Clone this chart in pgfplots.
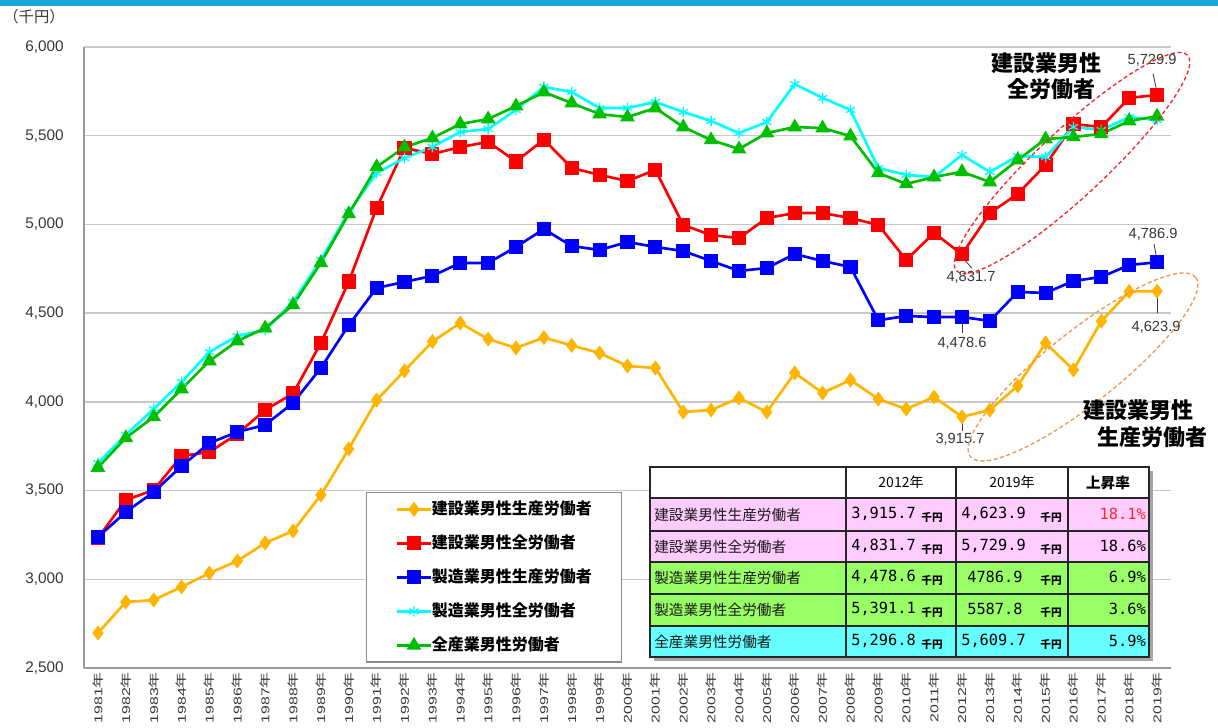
\documentclass[border=0pt]{standalone}
\usepackage{fontspec}
\setmainfont{Liberation Sans}
\newfontfamily\jp{Noto Sans CJK JP}
\newfontfamily\mono{DejaVu Sans Mono}
\usepackage{graphicx}
\usepackage{pgfplots}
\usepackage{pgfplotstable}
\pgfplotsset{compat=1.18}
\definecolor{cYel}{RGB}{255,180,0}
\definecolor{cRed}{RGB}{255,0,0}
\definecolor{cBlu}{RGB}{0,0,255}
\definecolor{cCya}{RGB}{0,255,255}
\definecolor{cGrn}{RGB}{0,190,0}
\definecolor{topbar}{RGB}{24,168,214}
\definecolor{pinkc}{RGB}{255,204,255}
\definecolor{greenc}{RGB}{153,255,102}
\definecolor{cyanc}{RGB}{102,255,255}
\definecolor{ellor}{RGB}{240,150,80}
\definecolor{ellred}{RGB}{240,40,40}
\definecolor{txt}{RGB}{55,55,55}

\pgfplotstableread{
year yel red blu cya grn
1981 2697 3232 3238 3655 3630
1982 2872 3447 3379 3814 3797
1983 2883 3503 3492 3960 3915
1984 2957 3695 3638 4112 4072
1985 3035 3717 3768 4281 4230
1986 3103 3819 3830 4371 4343
1987 3205 3954 3870 4405 4416
1988 3272 4047 3994 4563 4546
1989 3475 4332 4191 4800 4783
1990 3735 4678 4433 5070 5059
1991 4010 5093 4642 5290 5324
1992 4175 5431 4676 5374 5436
1993 4340 5397 4710 5436 5487
1994 4444 5436 4783 5521 5566
1995 4354 5465 4783 5538 5594
1996 4304 5355 4873 5645 5667
1997 4362 5478 4974 5775 5746
1998 4318 5318 4878 5746 5684
1999 4275 5279 4856 5656 5622
2000 4202 5245 4901 5656 5605
2001 4191 5307 4873 5690 5656
2002 3943 4997 4850 5634 5549
2003 3954 4940 4794 5583 5476
2004 4022 4923 4738 5515 5425
2005 3943 5036 4754 5577 5515
2006 4163 5064 4833 5791 5549
2007 4050 5064 4794 5713 5543
2008 4123 5036 4760 5645 5498
2009 4016 4997 4460 5318 5290
2010 3960 4800 4484 5279 5228
2011 4027 4952 4478 5267 5267
2012 3915.7 4831.7 4478.6 5391.1 5296.8
2013 3954 5064 4456 5296 5239
2014 4090 5172 4619 5386 5363
2015 4332 5335 4614 5380 5481
2016 4180 5566 4681 5549 5493
2017 4455 5549 4704 5532 5510
2018 4622 5713 4771 5605 5583
2019 4623.9 5729.9 4786.9 5587.8 5609.7
}\data

\newcommand\yl[1]{\scalebox{1.4}[1]{#1{\jp 年}}}

\begin{document}
\begin{tikzpicture}
\path[use as bounding box] (0,0) rectangle (913.5pt,546pt);
\fill[topbar] (0,541.5pt) rectangle (913.5pt,546pt);
\begin{axis}[
  at={(63pt,45pt)}, anchor=south west,
  scale only axis, width=815.25pt, height=465.75pt,
  xmin=1980.5, xmax=2019.5, ymin=2500, ymax=6000,
  xtick={1981,...,2019},
  xticklabels={\yl{1981},\yl{1982},\yl{1983},\yl{1984},\yl{1985},\yl{1986},\yl{1987},\yl{1988},\yl{1989},\yl{1990},\yl{1991},\yl{1992},\yl{1993},\yl{1994},\yl{1995},\yl{1996},\yl{1997},\yl{1998},\yl{1999},\yl{2000},\yl{2001},\yl{2002},\yl{2003},\yl{2004},\yl{2005},\yl{2006},\yl{2007},\yl{2008},\yl{2009},\yl{2010},\yl{2011},\yl{2012},\yl{2013},\yl{2014},\yl{2015},\yl{2016},\yl{2017},\yl{2018},\yl{2019}},
  ytick={2500,3000,...,6000},
  ymajorgrids, grid style={black!22, line width=1pt},
  axis lines*=left,
  axis line style={black!40, line width=1.3pt},
  major tick length=0pt,
  clip=false,
  /pgf/number format/assume math mode=true,
  /pgf/number format/1000 sep={,},
  yticklabel style={font=\fontsize{11.5pt}{13pt}\selectfont, text=txt, anchor=east, inner sep=0pt},
  yticklabel shift=15pt,
  xticklabel style={font=\fontsize{8.5pt}{10pt}\selectfont, text=txt, rotate=90, anchor=east, inner sep=0pt},
  xticklabel shift=3pt,
  legend style={at={(0.2594,0.2834)}, anchor=north west, draw=black!45, line width=1pt,
    font=\jp\bfseries\fontsize{12pt}{14pt}\selectfont,
    inner xsep=22pt, inner ysep=7pt, row sep=14.5pt,
    nodes={inner sep=0pt, text height=9.5pt, text depth=1.5pt}},
  legend cell align=left,
  legend image code/.code={\draw[mark repeat=2,mark phase=2,#1] plot coordinates {(0pt,0pt) (12.5pt,0pt) (25pt,0pt)};},
]
\addplot[cYel, line width=2pt, mark=diamond*, mark size=4pt, mark options={solid, fill=cYel}] table[x=year,y=yel] {\data};
\addlegendentry{建設業男性生産労働者}
\addplot[cRed, line width=2pt, mark=square*, mark size=4.3pt, mark options={solid, fill=cRed}] table[x=year,y=red] {\data};
\addlegendentry{建設業男性全労働者}
\addplot[cBlu, line width=2pt, mark=square*, mark size=4.3pt, mark options={solid, fill=cBlu}] table[x=year,y=blu] {\data};
\addlegendentry{製造業男性生産労働者}
\addplot[cCya, line width=2pt, mark=asterisk, mark size=4pt, mark options={solid, line width=1pt}] table[x=year,y=cya] {\data};
\addlegendentry{製造業男性全労働者}
\addplot[cGrn, line width=2pt, mark=triangle*, mark size=4.4pt, mark options={solid, fill=cGrn}] table[x=year,y=grn] {\data};
\addlegendentry{全産業男性労働者}

% data labels
\tikzset{dl/.style={font=\fontsize{11pt}{13pt}\selectfont, text=txt, inner sep=0pt}}
\node[dl] at ([shift={(-3.75pt,26.25pt)}]axis cs:2019,5729.9) {5,729.9};
\draw[txt, line width=0.6pt] ([shift={(-0.75pt,5.25pt)}]axis cs:2019,5729.9) -- ([shift={(-3pt,16pt)}]axis cs:2019,5729.9);
\node[dl] at ([shift={(-3pt,21pt)}]axis cs:2019,4786.9) {4,786.9};
\draw[txt, line width=0.6pt] ([shift={(-0.75pt,5.25pt)}]axis cs:2019,4786.9) -- ([shift={(-2.25pt,13.5pt)}]axis cs:2019,4786.9);
\node[dl] at ([shift={(-0.75pt,-27pt)}]axis cs:2019,4623.9) {4,623.9};
\draw[txt, line width=0.6pt] ([shift={(0pt,-3.75pt)}]axis cs:2019,4623.9) -- ([shift={(0pt,-16.5pt)}]axis cs:2019,4623.9);
\node[dl] at ([shift={(6.75pt,-17.25pt)}]axis cs:2012,4831.7) {4,831.7};
\draw[txt, line width=0.6pt] ([shift={(2.25pt,-4.5pt)}]axis cs:2012,4831.7) -- ([shift={(7.5pt,-10.5pt)}]axis cs:2012,4831.7);
\node[dl] at ([shift={(0pt,-19.5pt)}]axis cs:2012,4478.6) {4,478.6};
\draw[txt, line width=0.6pt] ([shift={(0pt,-3.75pt)}]axis cs:2012,4478.6) -- ([shift={(0pt,-12pt)}]axis cs:2012,4478.6);
\node[dl] at ([shift={(-1.5pt,-17.25pt)}]axis cs:2012,3915.7) {3,915.7};
\draw[txt, line width=0.6pt] ([shift={(0pt,-3.75pt)}]axis cs:2012,3915.7) -- ([shift={(0pt,-10.5pt)}]axis cs:2012,3915.7);
\end{axis}

\begin{scope}[shift={(0pt,546pt)}, x=0.75pt, y=-0.75pt]
% unit label
\node[font=\jp\fontsize{11.5pt}{13pt}\selectfont, text=txt] at (34,17) {（千円）};
% ellipses
\draw[ellred, line width=1pt, dash pattern=on 3pt off 2pt, rotate around={43:(1072,163)}] (1072,163) ellipse [x radius=118.5pt, y radius=25pt];
\draw[ellor, line width=1pt, dash pattern=on 3pt off 2pt, rotate around={38.5:(1083,367)}] (1083,367) ellipse [x radius=108pt, y radius=27pt];
% annotations
\tikzset{ann/.style={font=\jp\bfseries\fontsize{16.5pt}{19pt}\selectfont, inner sep=0pt}}
\node[ann] at (1046,63) {建設業男性};
\node[ann] at (1051,89) {全労働者};
\node[ann] at (1138,410) {建設業男性};
\node[ann] at (1152,437) {生産労働者};
% table
\fill[black!35] (654,471) rectangle (1153,661);
\fill[white] (650,467) rectangle (1149,498);
\fill[pinkc] (650,498) rectangle (1149,562);
\fill[greenc] (650,562) rectangle (1149,626);
\fill[cyanc] (650,626) rectangle (1149,657);
\draw[black!85, line width=1pt] (650,467) rectangle (1149,657);
\foreach \yy in {498,562,594,626} \draw[black!85, line width=1pt] (650,\yy) -- (1149,\yy);
\draw[black!85, line width=2pt] (650,531) -- (1149,531);
\foreach \xx in {846,956,1068} \draw[black!85, line width=1pt] (\xx,467) -- (\xx,657);
\tikzset{hd/.style={font=\jp\fontsize{10.5pt}{12pt}\selectfont, inner sep=0pt},
  nm/.style={font=\jp\fontsize{11pt}{12pt}\selectfont, text=black!90, anchor=west, inner sep=0pt},
  nb/.style={font=\mono\fontsize{11.5pt}{12pt}\selectfont, anchor=west, inner sep=0pt},
  un/.style={font=\jp\bfseries\fontsize{8pt}{9pt}\selectfont, anchor=east, inner sep=0pt},
  pc/.style={font=\mono\fontsize{11.5pt}{12pt}\selectfont, anchor=east, inner sep=0pt}}
\node[hd] at (901,482.5) {2012年};
\node[hd] at (1012,482.5) {2019年};
\node[hd, font=\jp\bfseries\fontsize{11pt}{12pt}\selectfont] at (1108,482.5) {上昇率};
% rows
\node[nm] at (654,514.5) {建設業男性生産労働者};
\node[nm] at (654,546.5) {建設業男性全労働者};
\node[nm] at (654,578) {製造業男性生産労働者};
\node[nm] at (654,610) {製造業男性全労働者};
\node[nm] at (654,641.5) {全産業男性労働者};
\node[nb] at (851,513.5) {3,915.7};
\node[nb] at (851,545.5) {4,831.7};
\node[nb] at (851,577) {4,478.6};
\node[nb] at (851,609) {5,391.1};
\node[nb] at (851,640.5) {5,296.8};
\node[nb] at (961,513.5) {4,623.9};
\node[nb] at (961,545.5) {5,729.9};
\node[nb] at (967,577) {4786.9};
\node[nb] at (967,609) {5587.8};
\node[nb] at (961,640.5) {5,609.7};
\foreach \yy in {517,549,580.5,612.5,644}{
  \node[un] at (943,\yy) {千円};
  \node[un] at (1062,\yy) {千円};
}
\node[pc, text=red!85] at (1146,513.5) {18.1\%};
\node[pc] at (1146,545.5) {18.6\%};
\node[pc] at (1146,577) {6.9\%};
\node[pc] at (1146,609) {3.6\%};
\node[pc] at (1146,640.5) {5.9\%};
\end{scope}
\end{tikzpicture}
\end{document}
